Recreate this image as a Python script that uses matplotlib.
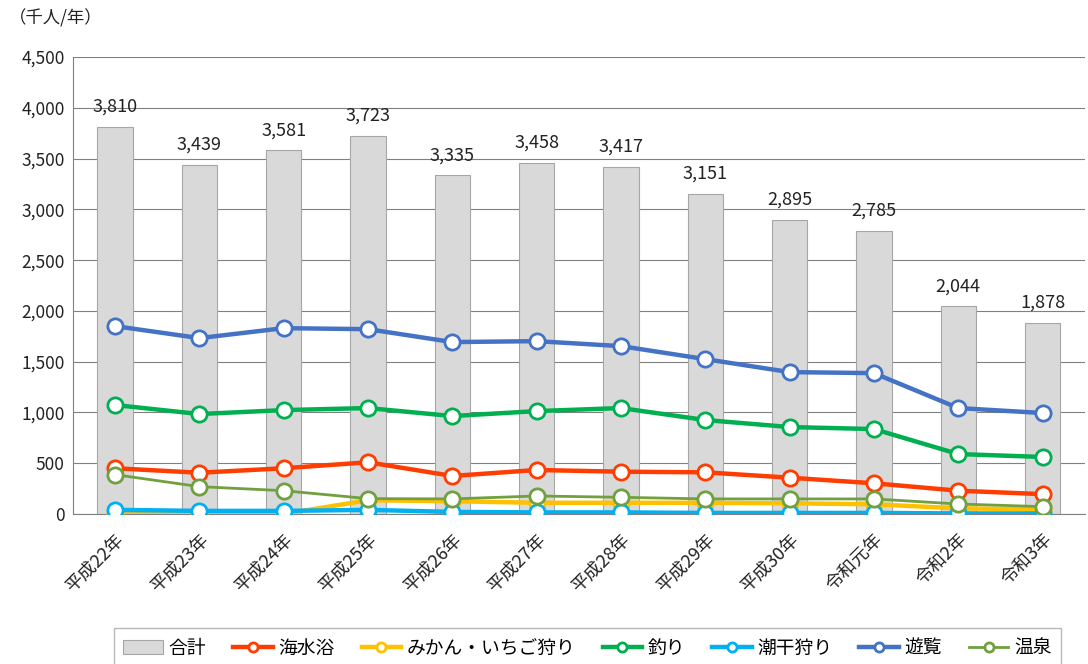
import matplotlib.pyplot as plt
import numpy as np

plt.rcParams['font.family'] = ['Noto Sans CJK JP', 'DejaVu Sans']

years = ['平成22年', '平成23年', '平成24年', '平成25年', '平成26年', '平成27年',
         '平成28年', '平成29年', '平成30年', '令和元年', '令和2年', '令和3年']
total = [3810, 3439, 3581, 3723, 3335, 3458, 3417, 3151, 2895, 2785, 2044, 1878]
kaisuiyoku = [450, 406, 450, 509, 374, 433, 416, 410, 357, 302, 229, 195]
mikan = [0, 0, 0, 135, 125, 110, 110, 110, 105, 95, 55, 45]
tsuri = [1073, 984, 1023, 1043, 964, 1013, 1043, 925, 856, 836, 590, 561]
shiohigari = [40, 30, 30, 40, 20, 15, 15, 10, 10, 10, 5, 5]
yuran = [1850, 1732, 1830, 1820, 1693, 1702, 1653, 1525, 1397, 1387, 1043, 994]
onsen = [387, 269, 229, 151, 148, 177, 164, 148, 148, 148, 98, 72]

fig = plt.figure(figsize=(10.88, 6.64), dpi=100)
ax = fig.add_axes([0.067, 0.226, 0.93, 0.688])

x = np.arange(len(years))
bars = ax.bar(x, total, width=0.42, color='#d9d9d9', edgecolor='#a6a6a6', linewidth=0.8,
              label='合計', zorder=2)
for xi, v in zip(x, total):
    ax.text(xi, v + 110, f'{v:,}', ha='center', va='bottom', fontsize=13, color='#222222')

series = [
    ('海水浴', kaisuiyoku, '#ff3d00', 3.2),
    ('みかん・いちご狩り', mikan, '#ffc000', 3.2),
    ('釣り', tsuri, '#00b050', 3.2),
    ('潮干狩り', shiohigari, '#00b0f0', 3.2),
    ('遊覧', yuran, '#4472c4', 3.2),
    ('温泉', onsen, '#70a040', 2.0),
]
handles = [bars]
for name, vals, col, lw in series:
    ln, = ax.plot(x, vals, color=col, lw=lw, marker='o', markersize=11,
                  markerfacecolor='white', markeredgecolor=col, markeredgewidth=2,
                  label=name, zorder=3)
    handles.append(ln)

ax.set_xlim(-0.5, len(years) - 0.5)
ax.set_ylim(0, 4500)
ax.set_yticks(np.arange(0, 4501, 500))
ax.set_yticklabels([f'{v:,}' for v in range(0, 4501, 500)], fontsize=12.5, color='#222222')
ax.yaxis.grid(True, color='#808080', lw=0.8, zorder=0)
ax.set_axisbelow(True)
ax.tick_params(axis='y', length=0, pad=6)
ax.set_xticks(x)
ax.set_xticklabels(years, rotation=45, ha='right', rotation_mode='anchor', fontsize=13,
                   color='#222222')
ax.tick_params(axis='x', length=0, pad=12)
for s in ['top', 'right']:
    ax.spines[s].set_visible(False)
ax.spines['left'].set_color('#808080')
ax.spines['bottom'].set_color('#808080')

fig.text(0.008, 0.972, '（千人/年）', fontsize=12.5, va='center', color='#222222')

fig.legend(handles=handles, loc='lower center', bbox_to_anchor=(0.54, -0.02), ncol=7,
           fontsize=13.5, frameon=True, fancybox=False, edgecolor='#a6a6a6',
           handlelength=2.1, handletextpad=0.3, columnspacing=1.45, markerscale=0.6,
           borderpad=0.5, borderaxespad=0.5)

fig.savefig('out.png', dpi=100)
